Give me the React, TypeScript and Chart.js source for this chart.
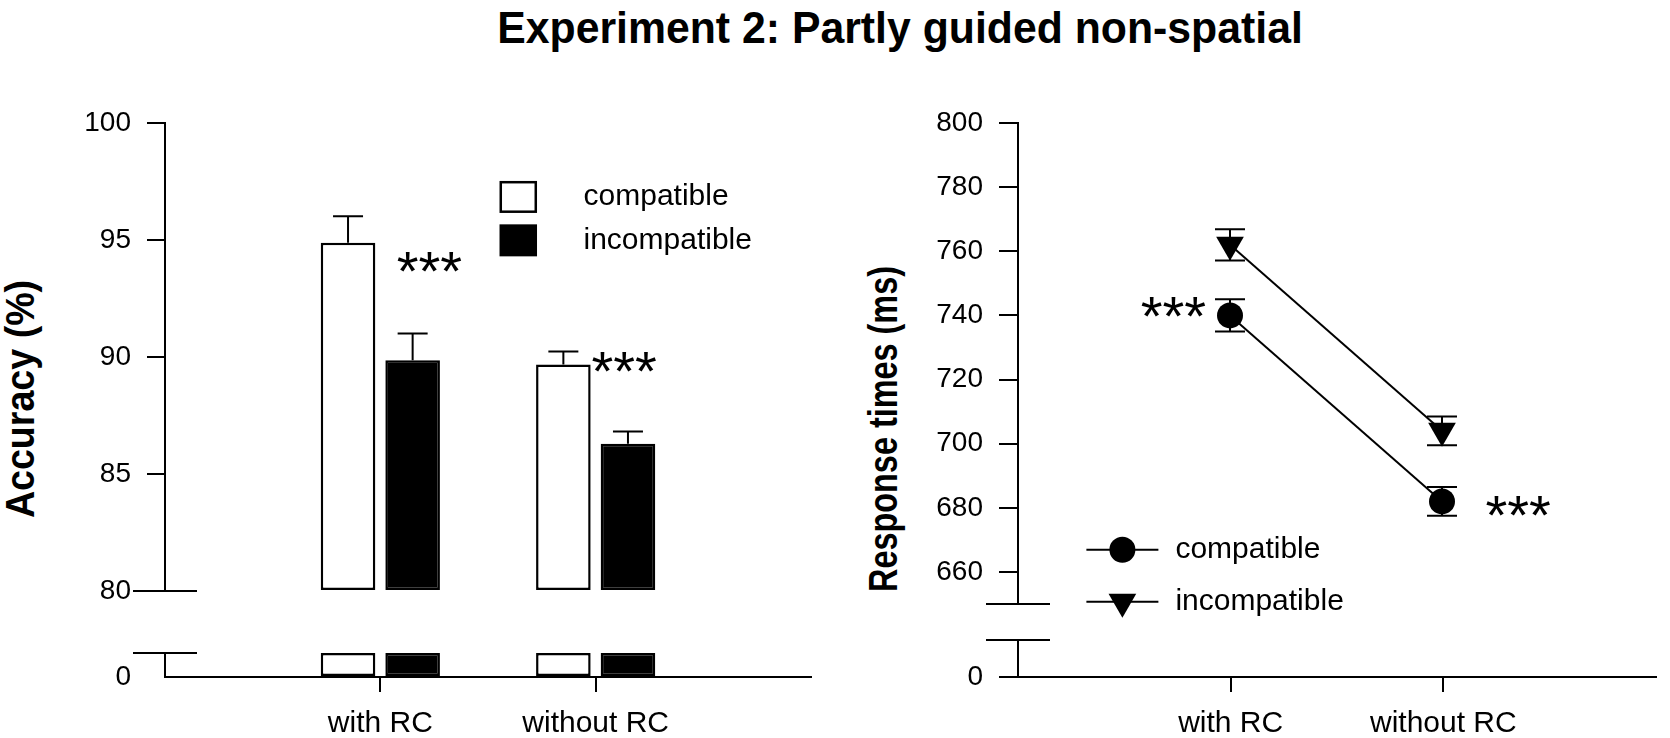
import React, { useEffect, useRef } from 'react';
import { Chart, registerables } from 'chart.js';
import { drawPoint } from 'chart.js/helpers';

Chart.register(...registerables);

// ---------------- data ----------------
const TITLE = 'Experiment 2: Partly guided non-spatial';
const ACC_AXIS_TITLE = 'Accuracy (%)';
const RT_AXIS_TITLE = 'Response times (ms)';
const CATEGORIES = ['with RC', 'without RC'];
const SERIES = ['compatible', 'incompatible'];

const ACC_COMPATIBLE = [94.88, 89.68];
const ACC_INCOMPATIBLE = [89.86, 86.29];
const ACC_COMPATIBLE_ERR = [1.14, 0.55];
const ACC_INCOMPATIBLE_ERR = [1.14, 0.53];

const RT_COMPATIBLE = [740, 682];
const RT_INCOMPATIBLE = [762, 704];
const RT_COMPATIBLE_ERR = [5, 4.5];
const RT_INCOMPATIBLE_ERR = [4.9, 4.5];

const ACC_TICKS = [80, 85, 90, 95, 100];
const RT_TICKS = [660, 680, 700, 720, 740, 760, 780, 800];
const LOW_TICKS = [0];
const SIG_MARK = '***';

// axis ranges (upper segment / lower segment of broken axes)
const ACC_RANGE = [80, 100];
const RT_RANGE = [650, 800];
const LOW_RANGE = [0, 5];

// ---------------- styling ----------------
const FONT = "'Liberation Sans', Arial, Helvetica, sans-serif";
const BLACK = '#000';
const CLEAR = 'rgba(0,0,0,0)';

const xLabels = ['', ...CATEGORIES, ''];
const pad = (a: any[]) => [null, ...a, null];

// ---------------- plugins ----------------
const axisBreakPlugin: any = {
  id: 'axisBreak',
  afterDraw(chart: any, _a: any, opts: any) {
    if (!opts || !opts.edge) return;
    const { ctx, chartArea } = chart;
    const y = opts.edge === 'bottom' ? chartArea.bottom : chartArea.top;
    const x = chartArea.left;
    ctx.save();
    ctx.strokeStyle = BLACK;
    ctx.lineWidth = 2;
    ctx.beginPath();
    ctx.moveTo(x - opts.half, y);
    ctx.lineTo(x + opts.half, y);
    ctx.stroke();
    ctx.restore();
  },
};

function drawErrorBars(chart: any, opts: any) {
  const { ctx } = chart;
  const yScale = chart.scales.y;
  const half = opts.cap / 2;
  ctx.save();
  ctx.strokeStyle = BLACK;
  ctx.lineWidth = 2;
  chart.data.datasets.forEach((ds: any, i: number) => {
    const errs = ds.errorBars;
    if (!errs) return;
    const meta = chart.getDatasetMeta(i);
    meta.data.forEach((el: any, j: number) => {
      const v = ds.data[j];
      const e = errs[j];
      if (v == null || e == null) return;
      const x = el.x;
      const yTop = yScale.getPixelForValue(v + e);
      const yBot = yScale.getPixelForValue(opts.mode === 'both' ? v - e : v);
      ctx.beginPath();
      ctx.moveTo(x, yBot);
      ctx.lineTo(x, yTop);
      ctx.moveTo(x - half, yTop);
      ctx.lineTo(x + half, yTop);
      if (opts.mode === 'both') {
        ctx.moveTo(x - half, yBot);
        ctx.lineTo(x + half, yBot);
      }
      ctx.stroke();
    });
  });
  ctx.restore();
}

const errorBarPlugin: any = {
  id: 'errorBars',
  beforeDatasetsDraw(chart: any, _a: any, opts: any) {
    if (opts && opts.layer === 'before') drawErrorBars(chart, opts);
  },
  afterDatasetsDraw(chart: any, _a: any, opts: any) {
    if (opts && opts.layer === 'after') drawErrorBars(chart, opts);
  },
};

const sigPlugin: any = {
  id: 'sigMarks',
  afterDatasetsDraw(chart: any, _a: any, opts: any) {
    if (!opts || !opts.items) return;
    const { ctx } = chart;
    ctx.save();
    ctx.fillStyle = BLACK;
    ctx.font = `${opts.size}px ${FONT}`;
    ctx.textAlign = 'center';
    ctx.textBaseline = 'alphabetic';
    opts.items.forEach((it: any) => {
      const x = chart.scales.x.getPixelForValue(it.x);
      const y = chart.scales.y.getPixelForValue(it.y) + 0.55 * opts.size;
      ctx.fillText(it.text, x, y);
    });
    ctx.restore();
  },
};

const legendPlugin: any = {
  id: 'panelLegend',
  afterDatasetsDraw(chart: any, _a: any, opts: any) {
    if (!opts || !opts.kind) return;
    const { ctx } = chart;
    const x0 = chart.scales.x.getPixelForValue(opts.x);
    const y0 = chart.scales.y.getPixelForValue(opts.y);
    ctx.save();
    chart.data.datasets.forEach((ds: any, i: number) => {
      const cy = y0 + i * opts.rowGap;
      let textX = x0;
      if (opts.kind === 'box') {
        const w = opts.boxWidth;
        const h = opts.boxHeight;
        const bw = ds.borderWidth;
        ctx.fillStyle = ds.borderColor;
        ctx.fillRect(x0, cy - h / 2, w, h);
        ctx.fillStyle = ds.backgroundColor;
        ctx.fillRect(x0 + bw, cy - h / 2 + bw, w - 2 * bw, h - 2 * bw);
        textX = x0 + opts.textOffset;
      } else {
        const L = opts.lineLength;
        ctx.strokeStyle = ds.borderColor;
        ctx.lineWidth = ds.borderWidth;
        ctx.beginPath();
        ctx.moveTo(x0, cy);
        ctx.lineTo(x0 + L, cy);
        ctx.stroke();
        ctx.fillStyle = ds.pointBackgroundColor;
        ctx.strokeStyle = ds.pointBorderColor;
        drawPoint(
          ctx,
          { pointStyle: ds.pointStyle, rotation: ds.pointRotation, radius: ds.pointRadius, borderWidth: 0 } as any,
          x0 + L / 2,
          cy
        );
        textX = x0 + L + opts.textGap;
      }
      ctx.fillStyle = BLACK;
      ctx.font = `${opts.size}px ${FONT}`;
      ctx.textAlign = 'left';
      ctx.textBaseline = 'middle';
      ctx.fillText(ds.label, textX, cy);
    });
    ctx.restore();
  },
};

const PLUGINS = [axisBreakPlugin, errorBarPlugin, sigPlugin, legendPlugin];

// ---------------- axes ----------------
function yAxis(range: number[], ticks: number[], width: number, tickLength: number, showTickMarks: boolean) {
  return {
    type: 'linear',
    position: 'left',
    min: range[0],
    max: range[1],
    afterBuildTicks: (s: any) => {
      s.ticks = ticks.map((v) => ({ value: v }));
    },
    afterFit: (s: any) => {
      s.width = width;
    },
    border: { display: true, color: BLACK, width: 2 },
    grid: {
      drawOnChartArea: false,
      drawTicks: true,
      tickLength,
      tickWidth: 2,
      lineWidth: 2,
      color: BLACK,
      tickColor: showTickMarks ? BLACK : CLEAR,
    },
    ticks: { color: BLACK, padding: 16, autoSkip: false, font: { family: FONT, size: 28 } },
  };
}

const xHidden = { type: 'category', offset: false, grid: { offset: false }, display: false };

function xLower(height: number) {
  return {
    type: 'category',
    position: 'bottom',
    offset: false,
    afterFit: (s: any) => {
      s.height = height;
    },
    border: { display: true, color: BLACK, width: 2 },
    grid: {
      offset: false,
      drawOnChartArea: false,
      drawTicks: true,
      tickLength: 15,
      tickWidth: 2,
      lineWidth: 2,
      color: BLACK,
      tickColor: (c: any) => (c.tick && c.tick.label ? BLACK : CLEAR),
    },
    ticks: { color: BLACK, padding: 14, maxRotation: 0, autoSkip: false, font: { family: FONT, size: 30 } },
  };
}

const baseOptions = {
  responsive: false,
  animation: false,
  events: [],
};

const barStyle = (i: number) => ({
  backgroundColor: i === 0 ? '#fff' : BLACK,
  borderColor: BLACK,
  borderWidth: 2.5,
  borderSkipped: false,
  categoryPercentage: 0.6,
  barPercentage: 0.845,
});

// ---------------- chart configs ----------------
const accUpper = () => ({
  type: 'bar',
  data: {
    labels: xLabels,
    datasets: [
      { label: SERIES[0], data: pad(ACC_COMPATIBLE), errorBars: pad(ACC_COMPATIBLE_ERR), base: ACC_RANGE[0], ...barStyle(0) },
      { label: SERIES[1], data: pad(ACC_INCOMPATIBLE), errorBars: pad(ACC_INCOMPATIBLE_ERR), base: ACC_RANGE[0], ...barStyle(1) },
    ],
  },
  options: {
    ...baseOptions,
    layout: { padding: { top: 123, bottom: 69, left: 0, right: 19 } },
    plugins: {
      legend: { display: false },
      tooltip: { enabled: false },
      axisBreak: { edge: 'bottom', half: 32 },
      errorBars: { mode: 'up', layer: 'after', cap: 30 },
      sigMarks: {
        size: 56,
        items: [
          { x: 1.228, y: 94.2, text: SIG_MARK },
          { x: 2.132, y: 89.9, text: SIG_MARK },
        ],
      },
      panelLegend: { kind: 'box', x: 1.5535, y: 96.84, rowGap: 43.4, boxWidth: 37.5, boxHeight: 32, textOffset: 84, size: 30 },
    },
    scales: { x: xHidden, y: yAxis(ACC_RANGE, ACC_TICKS, 165, 18, true) },
  },
  plugins: PLUGINS,
});

const accLower = () => ({
  type: 'bar',
  data: {
    labels: xLabels,
    datasets: [
      { label: SERIES[0], data: pad(ACC_COMPATIBLE.map((v) => Math.min(v, LOW_RANGE[1]))), ...barStyle(0) },
      { label: SERIES[1], data: pad(ACC_INCOMPATIBLE.map((v) => Math.min(v, LOW_RANGE[1]))), ...barStyle(1) },
    ],
  },
  options: {
    ...baseOptions,
    layout: { padding: { top: 53, bottom: 0, left: 0, right: 19 } },
    plugins: {
      legend: { display: false },
      tooltip: { enabled: false },
      axisBreak: { edge: 'top', half: 32 },
    },
    scales: { x: xLower(61), y: yAxis(LOW_RANGE, LOW_TICKS, 165, 18, false) },
  },
  plugins: PLUGINS,
});

const lineStyle = (i: number) => ({
  borderColor: BLACK,
  backgroundColor: BLACK,
  borderWidth: 2,
  fill: false,
  pointStyle: i === 0 ? 'circle' : 'triangle',
  pointRadius: i === 0 ? 13 : 16,
  pointRotation: i === 0 ? 0 : 180,
  pointBackgroundColor: BLACK,
  pointBorderColor: BLACK,
  pointBorderWidth: 0,
});

const rtUpper = () => ({
  type: 'line',
  data: {
    labels: xLabels,
    datasets: [
      { label: SERIES[0], data: pad(RT_COMPATIBLE), errorBars: pad(RT_COMPATIBLE_ERR), ...lineStyle(0) },
      { label: SERIES[1], data: pad(RT_INCOMPATIBLE), errorBars: pad(RT_INCOMPATIBLE_ERR), ...lineStyle(1) },
    ],
  },
  options: {
    ...baseOptions,
    layout: { padding: { top: 123, bottom: 66, left: 0, right: 1 } },
    plugins: {
      legend: { display: false },
      tooltip: { enabled: false },
      axisBreak: { edge: 'bottom', half: 32 },
      errorBars: { mode: 'both', layer: 'before', cap: 30 },
      sigMarks: {
        size: 56,
        items: [
          { x: 0.733, y: 743.4, text: SIG_MARK },
          { x: 2.359, y: 681.3, text: SIG_MARK },
        ],
      },
      panelLegend: { kind: 'line', x: 0.3226, y: 666.9, rowGap: 52, lineLength: 72, textGap: 17, size: 30 },
    },
    scales: { x: xHidden, y: yAxis(RT_RANGE, RT_TICKS, 188, 19, true) },
  },
  plugins: PLUGINS,
});

const rtLower = () => ({
  type: 'line',
  data: { labels: xLabels, datasets: [] },
  options: {
    ...baseOptions,
    layout: { padding: { top: 40, bottom: 0, left: 0, right: 1 } },
    plugins: {
      legend: { display: false },
      tooltip: { enabled: false },
      axisBreak: { edge: 'top', half: 32 },
    },
    scales: { x: xLower(61), y: yAxis(LOW_RANGE, LOW_TICKS, 188, 19, true) },
  },
  plugins: PLUGINS,
});

// ---------------- components ----------------
function ChartBox({ left, top, width, height, make }: any) {
  const ref = useRef<HTMLCanvasElement>(null);
  useEffect(() => {
    const chart = new Chart(ref.current as HTMLCanvasElement, make() as any);
    return () => chart.destroy();
  }, []);
  return (
    <canvas
      ref={ref}
      width={width}
      height={height}
      style={{ position: 'absolute', left, top, width, height, display: 'block' }}
    />
  );
}

export default function App() {
  return (
    <div
      style={{
        position: 'absolute',
        left: 0,
        top: 0,
        width: 1670,
        height: 738,
        background: '#fff',
        overflow: 'hidden',
        color: BLACK,
      }}
    >
      <div
        style={{
          position: 'absolute',
          left: 900,
          top: 5.8,
          transform: 'translateX(-50%) scaleX(0.972)',
          font: `bold 44px/44px ${FONT}`,
          whiteSpace: 'nowrap',
        }}
      >
        {TITLE}
      </div>
      <div
        style={{
          position: 'absolute',
          left: 20,
          top: 399,
          transform: 'translate(-50%, -50%) rotate(-90deg) scaleX(0.94)',
          font: `bold 40px/40px ${FONT}`,
          whiteSpace: 'nowrap',
        }}
      >
        {ACC_AXIS_TITLE}
      </div>
      <div
        style={{
          position: 'absolute',
          left: 882.7,
          top: 429,
          transform: 'translate(-50%, -50%) rotate(-90deg) scaleX(0.81)',
          font: `bold 40px/40px ${FONT}`,
          whiteSpace: 'nowrap',
        }}
      >
        {RT_AXIS_TITLE}
      </div>
      <ChartBox left={0} top={0} width={830} height={660} make={accUpper} />
      <ChartBox left={0} top={600} width={830} height={138} make={accLower} />
      <ChartBox left={830} top={0} width={840} height={670} make={rtUpper} />
      <ChartBox left={830} top={600} width={840} height={138} make={rtLower} />
    </div>
  );
}
